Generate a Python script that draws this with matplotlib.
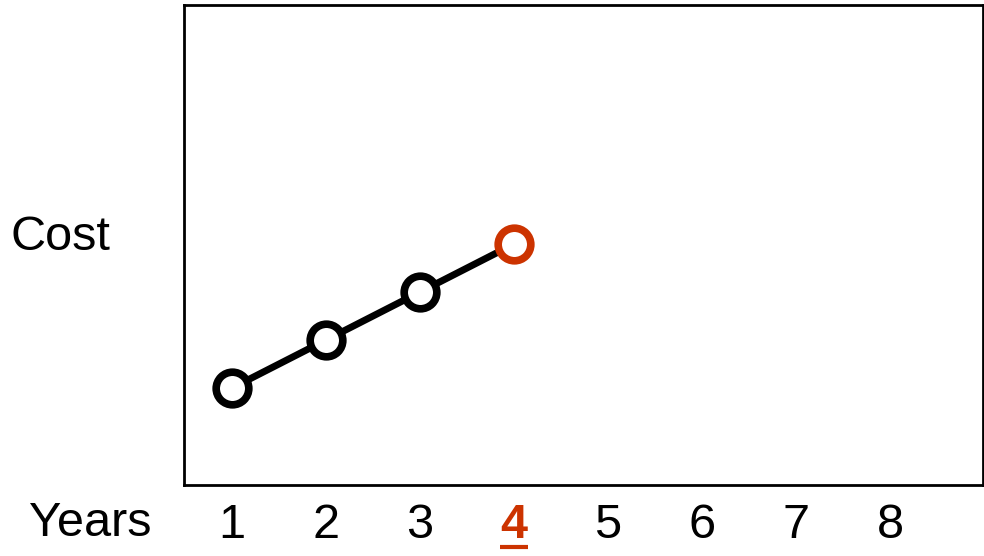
import matplotlib.pyplot as plt
from matplotlib.transforms import blended_transform_factory

plt.rcParams['font.family'] = ['Liberation Sans', 'DejaVu Sans']

years = [1, 2, 3, 4]
cost = [1, 2, 3, 4]
tick_years = [1, 2, 3, 4, 5, 6, 7, 8]
highlight = 4
red = '#cc3300'

fig = plt.figure(figsize=(9.84, 5.56), dpi=100)
W, H = 984, 556
ax = fig.add_axes([184 / W, 1 - 485 / H, 799 / W, 480 / H])

ax.plot(years, cost, color='black', lw=5, zorder=2)
# black rings for the past years, red ring for the current one
ax.plot(years[:-1], cost[:-1], 'o', ms=23.5, mew=5.5, mfc='white', mec='black', zorder=3)
ax.plot(years[-1:], cost[-1:], 'o', ms=23.5, mew=5.5, mfc='white', mec=red, zorder=3)

ax.set_xlim(0.49, 8.99)
ax.set_ylim(-1.02, 8.98)
ax.set_yticks([])
ax.set_xticks(tick_years)
ax.set_xticklabels([str(t) for t in tick_years], fontsize=35)
ax.tick_params(axis='x', length=0, pad=13)
for lab, t in zip(ax.get_xticklabels(), tick_years):
    if t == highlight:
        lab.set_color(red)
        lab.set_fontweight('bold')

for s in ax.spines.values():
    s.set_linewidth(2)

# underline under the highlighted year
tr = blended_transform_factory(ax.transData, ax.transAxes)
ax.plot([highlight - 0.15, highlight + 0.15], [-0.129, -0.129], color=red,
        lw=3, transform=tr, clip_on=False, solid_capstyle='butt')

fig.text(90 / W, 1 - 523 / H, 'Years', fontsize=35, ha='center', va='center')
fig.text(60 / W, 1 - 237 / H, 'Cost', fontsize=35, ha='center', va='center')

fig.savefig('out.png', dpi=100)
